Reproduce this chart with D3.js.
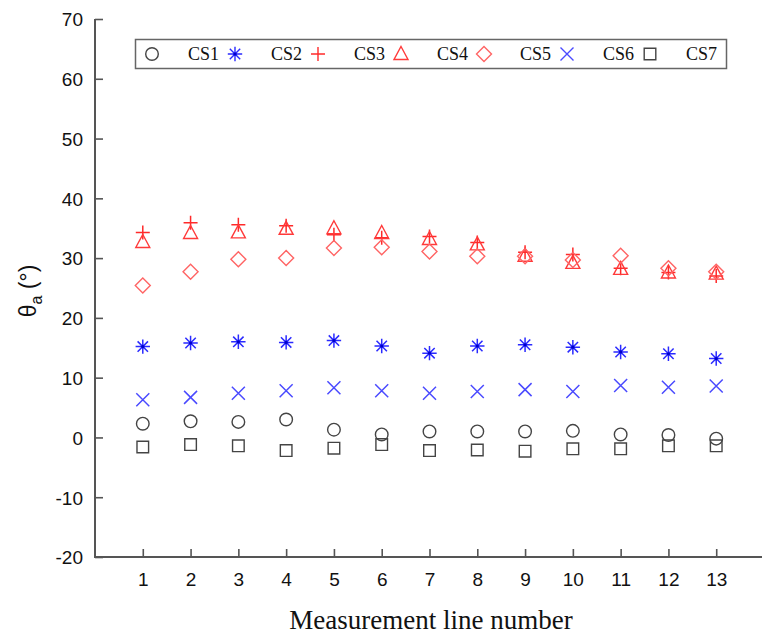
<!DOCTYPE html>
<html>
<head>
<meta charset="utf-8">
<script src="https://cdn.jsdelivr.net/npm/d3@7"></script>
<style>
  body { margin: 0; background: #fff; }
  svg { display: block; }
</style>
</head>
<body>
<svg id="chart" width="762" height="637"></svg>
<script>
// measurement lines 1..13
var lines = [1, 2, 3, 4, 5, 6, 7, 8, 9, 10, 11, 12, 13];

// theta_a values
var cs1 = [2.3, 2.7, 2.6, 3.0, 1.3, 0.5, 1.0, 1.0, 1.0, 1.1, 0.5, 0.4, -0.2];
var cs2 = [15.2, 15.8, 16.0, 15.9, 16.2, 15.3, 14.1, 15.3, 15.5, 15.1, 14.3, 14.0, 13.2];
var cs3 = [34.3, 35.9, 35.6, 35.4, 33.9, 33.4, 33.6, 32.6, 31.0, 30.6, 28.3, 27.6, 27.0];
var cs4 = [32.7, 34.2, 34.3, 34.9, 35.0, 34.2, 33.2, 32.3, 30.4, 29.2, 28.2, 27.6, 27.4];
var cs5 = [25.4, 27.7, 29.8, 30.0, 31.7, 31.8, 31.1, 30.3, 30.3, 29.7, 30.4, 28.3, 27.7];
var cs6 = [6.3, 6.7, 7.4, 7.8, 8.3, 7.8, 7.4, 7.7, 8.0, 7.7, 8.7, 8.4, 8.6];
var cs7 = [-1.6, -1.2, -1.4, -2.2, -1.8, -1.2, -2.2, -2.1, -2.3, -1.9, -1.9, -1.4, -1.4];

var seriesNames = ["CS1", "CS2", "CS3", "CS4", "CS5", "CS6", "CS7"];
var seriesValues = [cs1, cs2, cs3, cs4, cs5, cs6, cs7];
var seriesShapes = ["circle", "asterisk", "plus", "triangle", "diamond", "cross", "square"];
var seriesColors = ["#444444", "#2a2aff", "#ff2a2a", "#ff3a3a", "#ff6464", "#4a4aff", "#444444"];

var yTicks = [-20, -10, 0, 10, 20, 30, 40, 50, 60, 70];

var svg = d3.select("#chart");

var x = d3.scaleLinear().domain([0, 14]).range([95, 764]);
var y = d3.scaleLinear().domain([-20, 70]).range([557, 19]);

var axisColor = "#555";

// symbol path builder, centred on 0,0
function shapePath(kind) {
  if (kind == "circle") return d3.symbol().type(d3.symbolCircle).size(Math.PI * 6.3 * 6.3)();
  if (kind == "square") return "M-5.8,-5.8H5.8V5.8H-5.8Z";
  if (kind == "triangle") return "M0,-7.5L7,5.5H-7Z";
  if (kind == "diamond") return "M0,-7.5L7.5,0L0,7.5L-7.5,0Z";
  if (kind == "plus") return "M-7,0H7M0,-7V7";
  if (kind == "cross") return "M-6.5,-6.5L6.5,6.5M6.5,-6.5L-6.5,6.5";
  if (kind == "asterisk") {
    var a = 5.2;
    return "M-7.2,0H7.2M0,-7.2V7.2M" + (-a) + "," + (-a) + "L" + a + "," + a +
      "M" + a + "," + (-a) + "L" + (-a) + "," + a;
  }
  return "";
}

// axes (plain hyphen for negatives, like the original)
var yAxis = d3.axisLeft(y).tickValues(yTicks).tickSize(-8).tickPadding(12)
  .tickFormat(function (d) { return String(d); });
var gy = svg.append("g").attr("transform", "translate(95,0)").call(yAxis);

var xAxis = d3.axisBottom(x).tickValues(lines).tickSize(-8).tickPadding(14);
var gx = svg.append("g").attr("transform", "translate(0,557)").call(xAxis);

[gx, gy].forEach(function (g) {
  g.select(".domain").remove();
  g.selectAll(".tick line").attr("stroke", axisColor).attr("stroke-width", 1.6);
  g.selectAll(".tick text")
    .attr("fill", "#111")
    .style("font-family", "Liberation Sans, Arial, sans-serif")
    .style("font-size", "19px");
});
gy.selectAll(".tick text").attr("dy", "0.36em");
gx.selectAll(".tick text").attr("dy", "0.78em");

svg.append("line")
  .attr("x1", 95).attr("x2", 95).attr("y1", y(70)).attr("y2", y(-20) + 1)
  .attr("stroke", axisColor).attr("stroke-width", 2);
svg.append("line")
  .attr("x1", 94).attr("x2", 762).attr("y1", y(-20)).attr("y2", y(-20))
  .attr("stroke", axisColor).attr("stroke-width", 2);

// axis titles
svg.append("text")
  .attr("x", 431).attr("y", 629)
  .attr("text-anchor", "middle")
  .style("font-family", "Liberation Serif, Times New Roman, serif")
  .style("font-size", "27px")
  .attr("fill", "#111")
  .text("Measurement line number");

var yt = svg.append("text")
  .attr("transform", "translate(36,291) rotate(-90)")
  .attr("text-anchor", "middle")
  .style("font-family", "Liberation Sans, Arial, sans-serif")
  .style("font-size", "23px")
  .attr("fill", "#111");
yt.append("tspan").text("\u03b8");
yt.append("tspan").attr("dy", 6).style("font-size", "16px").text("a");
yt.append("tspan").attr("dy", -6).text(" (\u00b0)");

// points
seriesValues.forEach(function (vals, i) {
  var hollow = ["circle", "square", "triangle", "diamond"].indexOf(seriesShapes[i]) >= 0;
  var g = svg.append("g");
  g.selectAll("path")
    .data(vals)
    .join("path")
    .attr("transform", function (d, j) { return "translate(" + x(lines[j]) + "," + y(d) + ")"; })
    .attr("d", shapePath(seriesShapes[i]))
    .attr("fill", "none")
    .attr("stroke", seriesColors[i])
    .attr("stroke-width", hollow ? 1.4 : 1.5);
  // the asterisks have a small solid centre
  if (seriesShapes[i] == "asterisk") {
    g.selectAll("circle")
      .data(vals)
      .join("circle")
      .attr("cx", function (d, j) { return x(lines[j]); })
      .attr("cy", function (d) { return y(d); })
      .attr("r", 1.6)
      .attr("fill", "#0000cc");
  }
});

// legend
var lg = svg.append("g");
lg.append("rect")
  .attr("x", 135.5).attr("y", 39.5).attr("width", 591).attr("height", 29)
  .attr("fill", "#fff").attr("stroke", "#666").attr("stroke-width", 1.5);

seriesNames.forEach(function (name, i) {
  var sx = 152 + i * 83;
  var item = lg.append("g");
  item.append("path")
    .attr("transform", "translate(" + sx + ",54)")
    .attr("d", shapePath(seriesShapes[i]))
    .attr("fill", "none")
    .attr("stroke", seriesColors[i])
    .attr("stroke-width", 1.4);
  if (seriesShapes[i] == "asterisk") {
    item.append("circle").attr("cx", sx).attr("cy", 54).attr("r", 1.6).attr("fill", "#0000cc");
  }
  item.append("text")
    .attr("x", sx + 36).attr("y", 60)
    .style("font-family", "Liberation Serif, Times New Roman, serif")
    .style("font-size", "18px")
    .attr("fill", "#111")
    .text(name);
});
</script>
</body>
</html>
